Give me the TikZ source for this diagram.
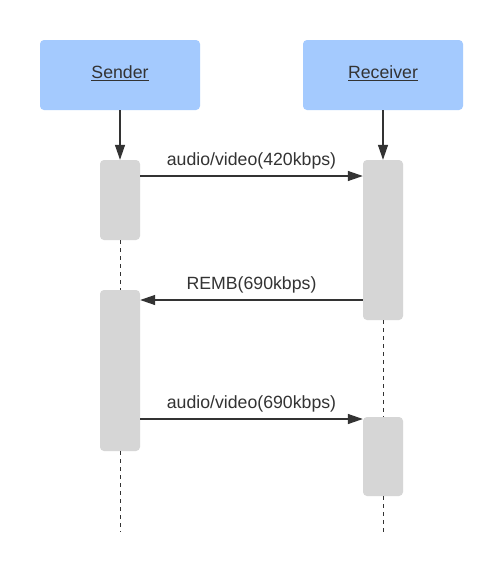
\documentclass[tikz,border=0pt]{standalone}
\usepackage{fontspec}
\setmainfont{Liberation Sans}
\usetikzlibrary{arrows.meta}
\definecolor{actorblue}{HTML}{A4CAFE}
\definecolor{actgray}{HTML}{D6D6D6}
\definecolor{ink}{HTML}{333333}
\newcommand\myul[1]{\setbox0\hbox{#1}\rlap{\rule[-3.1pt]{\wd0}{1.3pt}}\box0}
\tikzset{
  actor/.style={fill=actorblue, draw=none, rounded corners=4pt, minimum width=160pt, minimum height=70pt,
    text height=12.7pt, text depth=6.1pt, inner sep=0pt, text=ink, font=\fontsize{17.7}{20}\selectfont},
  actbox/.style={fill=actgray, draw=none, rounded corners=4pt, minimum width=40pt, inner sep=0pt},
  msg/.style={draw=ink, line width=1.3pt, -{Triangle[length=15pt,width=10pt]}},
  life/.style={draw=ink, line width=1pt, dash pattern=on 4pt off 4pt},
  lbl/.style={anchor=base, text=ink, font=\fontsize{17.7}{20}\selectfont, inner sep=0pt, yshift=10.5pt}
}
\begin{document}
\begin{tikzpicture}[x=1pt,y=-1pt]
\useasboundingbox (0,0) rectangle (503,571);
\fill[white] (0,0) rectangle (503,571);
% actors
\node[actor] (S) at (120,75) {\myul{Sender}};
\node[actor] (R) at (383,75) {\myul{Receiver}};
% activation boxes
\node[actbox, minimum height=80pt] (sa1) at (120,200) {};
\node[actbox, minimum height=160pt] (ra1) at (383,240) {};
\node[actbox, minimum height=161pt] (sa2) at (120,370.5) {};
\node[actbox, minimum height=79pt] (ra2) at (383,456.5) {};
\coordinate (sEnd) at (120,532);
\coordinate (rEnd) at (383,532);
% lifelines
\draw[msg] (S.south) -- (sa1.north);
\draw[msg] (R.south) -- (ra1.north);
\draw[life] (sa1.south) -- (sa2.north);
\draw[life] (sa2.south) -- (sEnd);
\draw[life] (ra1.south) -- (ra2.north);
\draw[life] (ra2.south) -- (rEnd);
% messages
\draw[msg] (sa1.east |- 0,176) -- node[lbl] {audio/video(420kbps)} (ra1.west |- 0,176);
\draw[msg] (ra1.west |- 0,300) -- node[lbl] {REMB(690kbps)} (sa2.east |- 0,300);
\draw[msg] (sa2.east |- 0,419) -- node[lbl] {audio/video(690kbps)} (ra2.west |- 0,419);
\end{tikzpicture}
\end{document}
